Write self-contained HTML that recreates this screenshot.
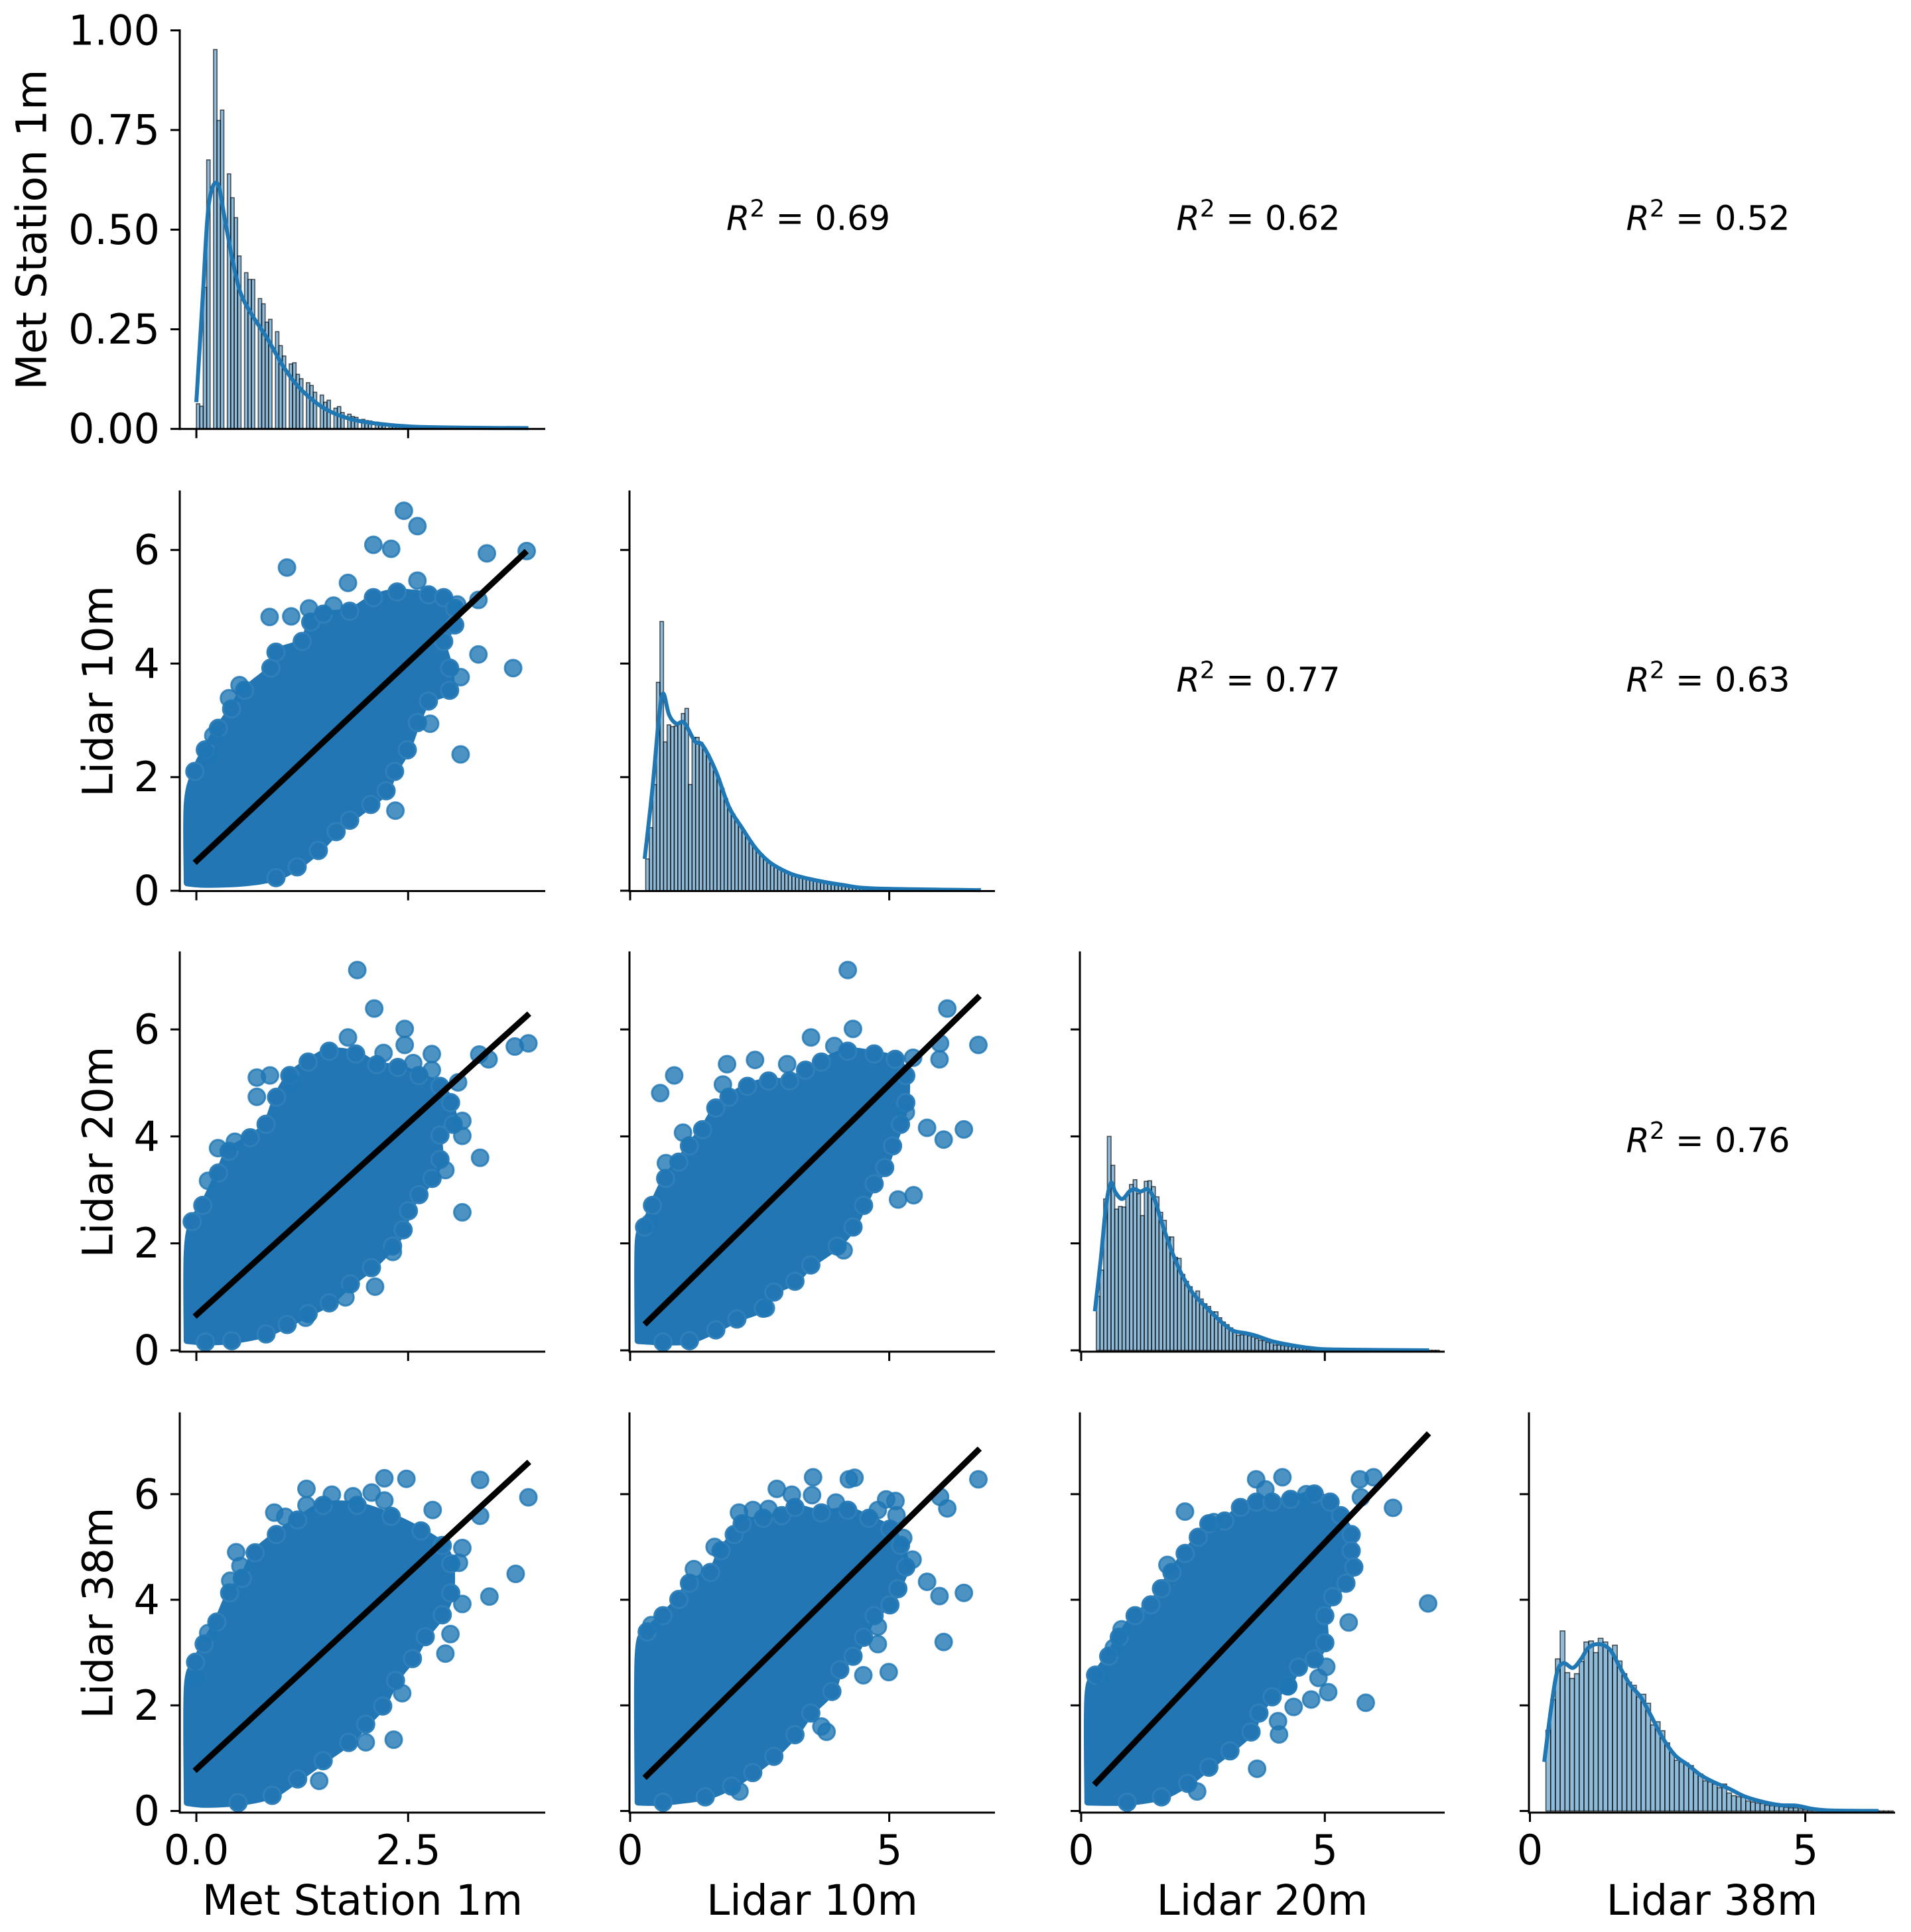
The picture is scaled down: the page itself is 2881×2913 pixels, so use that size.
<!DOCTYPE html>
<html><head><meta charset="utf-8"><style>
html,body{margin:0;padding:0;background:#fff}
svg{display:block;font-family:"DejaVu Sans","Liberation Sans",sans-serif}
</style></head><body>
<svg id="fig" xmlns="http://www.w3.org/2000/svg" width="2881" height="2913" viewBox="0 0 2881 2913">
<rect width="2881" height="2913" fill="#fff"/>
</svg>
<script>
// ---------------- data ----------------
const variables = ["Met Station 1m","Lidar 10m","Lidar 20m","Lidar 38m"];
const rowTicks = [[0,0.25,0.5,0.75,1.0],[0,2,4,6],[0,2,4,6],[0,2,4,6]];
const rowTickLabels = [["0.00","0.25","0.50","0.75","1.00"],["0","2","4","6"],["0","2","4","6"],["0","2","4","6"]];
const colTicks = [[0,2.5],[0,5],[0,5],[0,5]];
const colTickLabels = [["0.0","2.5"],["0","5"],["0","5"],["0","5"]];
const r2Cells = [[0,1],[0,2],[0,3],[1,2],[1,3],[2,3]];
const r2Values = ["0.69","0.62","0.52","0.77","0.63","0.76"];

// histogram bins (start, width, heights)
const histStart = [0.0, 0.30, 0.31, 0.29];
const histWidth = [0.0406, 0.0688, 0.0757, 0.0864];
const hist0 = [0.063,0.057,0.355,0.675,0,0.952,0.774,0.80,0,0.64,0.58,0.53,0.434,0,0.392,0.375,0.375,0,0.327,0.314,0.268,0.275,0,0.244,0.209,0.183,0,0.163,0.166,0.137,0.126,0,0.116,0.109,0.092,0,0.085,0.067,0.072,0,0.052,0.056,0.041,0,0.037,0.031,0.029,0,0.024,0.021,0.020,0,0.017,0.013,0.012,0,0.009,0.008,0.006,0,0.005,0.004,0.004,0,0.003,0.002,0.002,0,0.001,0.001,0.001,0,0.001,0.001,0,0,0.001,0,0,0,0,0.001,0,0,0,0,0,0,0,0,0,0,0,0.001];
const hist1 = [0.56,1.11,1.87,3.67,4.74,2.62,2.92,2.89,2.90,2.95,3.12,3.21,1.87,2.70,2.70,2.61,2.51,2.40,2.25,2.10,1.97,1.80,1.62,1.46,1.35,1.25,1.15,1.05,0.95,0.87,0.78,0.70,0.64,0.57,0.51,0.47,0.43,0.39,0.36,0.33,0.30,0.28,0.26,0.24,0.22,0.21,0.20,0.18,0.17,0.16,0.15,0.14,0.13,0.12,0.11,0.10,0.09,0.08,0.075,0.07,0.06,0.055,0.05,0.045,0.04,0.035,0.03,0.03,0.025,0.025,0.02,0.02,0.02,0.015,0.015,0.015,0.01,0.01,0.01,0.01,0.01,0.01,0.005,0.005,0.005,0.005,0.005,0.005,0.005,0.005,0.003,0.003,0.003];
const hist2 = [1.01,1.50,2.83,4.0,3.46,2.64,2.69,2.68,2.91,3.10,3.19,2.93,2.52,3.16,3.17,3.06,2.87,2.58,2.43,2.12,2.12,1.74,1.72,1.42,1.29,1.19,1.06,1.11,0.96,0.87,0.82,0.72,0.72,0.61,0.53,0.48,0.42,0.37,0.28,0.29,0.29,0.27,0.25,0.22,0.19,0.18,0.15,0.14,0.10,0.10,0.09,0.08,0.07,0.06,0.05,0.05,0.04,0.035,0.03,0.025,0.025,0.02,0.02,0.015,0.015,0.012,0.01,0.01,0.01,0.008,0.008,0.006,0.006,0.005,0.005,0.004,0.004,0.003,0.003,0.003,0.002,0.002,0.002,0.002,0.002,0.002,0.001,0.001,0.001,0.001,0.001,0.001,0.001];
const hist3 = [1.53,2.11,2.88,3.41,2.62,2.51,2.60,2.83,3.20,3.22,3.0,3.27,3.20,3.05,3.14,2.84,2.60,2.44,2.38,2.16,2.21,2.04,1.63,1.69,1.52,1.29,1.11,0.96,0.93,0.91,0.86,0.74,0.70,0.57,0.55,0.51,0.44,0.51,0.34,0.29,0.27,0.26,0.19,0.17,0.15,0.14,0.11,0.10,0.09,0.08,0.07,0.06,0.06,0.04,0.03,0.03,0.02,0.02,0.015,0.01,0.01,0.01,0.008,0.006,0.005,0.004,0.003,0.003,0.002,0.002,0.002,0.001,0.001];

// KDE curves
const kde0X = [0.0,0.077,0.145,0.248,0.346,0.44,0.53,0.66,0.84,1.02,1.2,1.43,1.65,1.92,2.28,2.64,3.2,3.92];
const kde0Y = [0.067,0.337,0.56,0.616,0.514,0.41,0.337,0.285,0.226,0.159,0.107,0.063,0.037,0.02,0.01,0.005,0.003,0.002];
const kde1X = [0.28,0.43,0.56,0.64,0.75,0.89,1.04,1.25,1.40,1.66,1.91,2.17,2.42,2.68,2.93,3.19,3.60,4.11,4.72,6.77];
const kde1Y = [0.56,1.8,3.09,3.47,3.1,2.94,2.96,2.63,2.56,2.09,1.47,1.09,0.75,0.51,0.37,0.27,0.18,0.10,0.04,0.01];
const kde2X = [0.28,0.40,0.51,0.61,0.70,0.84,1.0,1.11,1.22,1.37,1.51,1.65,1.86,2.08,2.30,2.56,2.84,3.11,3.38,3.60,3.92,4.35,4.79,5.27,7.14];
const kde2Y = [0.73,1.69,2.7,3.13,2.96,2.83,2.98,3.01,2.97,3.01,2.81,2.4,1.85,1.39,1.06,0.81,0.56,0.37,0.32,0.27,0.17,0.09,0.035,0.015,0.0];
const kde3X = [0.26,0.38,0.49,0.61,0.78,0.93,1.06,1.25,1.45,1.63,1.82,2.01,2.20,2.39,2.63,2.86,3.10,3.33,3.62,3.91,4.28,4.56,4.85,5.13,5.46,6.33];
const kde3Y = [0.93,1.91,2.62,2.8,2.71,2.88,3.09,3.16,3.06,2.73,2.39,2.16,1.80,1.42,1.06,0.88,0.68,0.55,0.42,0.27,0.16,0.11,0.10,0.04,0.01,0.0];

// scatter dense-region envelopes and outlier points (data units)
const env10X = [-0.11,-0.11,-0.018,0.106,0.26,0.416,0.57,0.88,0.94,1.25,1.35,1.50,1.81,2.09,2.37,2.74,2.92,3.05,3.05,2.92,2.99,2.99,2.74,2.61,2.49,2.34,2.24,2.06,1.81,1.65,1.44,1.19,0.94,0.57,0.106];
const env10Y = [0.135,1.52,2.10,2.48,2.86,3.20,3.53,3.92,4.20,4.39,4.73,4.87,4.92,5.16,5.26,5.21,5.16,4.97,4.68,4.39,3.92,3.53,3.34,2.96,2.48,2.10,1.76,1.52,1.24,1.04,0.71,0.42,0.23,0.135,0.11];
const out10X = [2.45,2.61,2.09,2.30,3.43,3.90,1.07,0.865,1.12,1.79,2.61,3.33,3.74,3.12,2.76,3.12,2.35,3.33,0.385,0.51,0.20,0.14,1.62,1.33,3.08];
const out10Y = [6.69,6.42,6.09,6.02,5.94,5.98,5.69,4.82,4.83,5.42,5.46,4.16,3.92,3.76,2.94,2.40,1.41,5.12,3.39,3.62,2.73,2.38,5.02,4.97,5.04];

const env20X = [-0.111,-0.111,-0.049,0.076,0.262,0.387,0.636,0.823,0.947,1.103,1.320,1.569,1.881,2.130,2.379,2.628,2.876,3.001,3.032,2.876,2.876,2.783,2.628,2.503,2.441,2.316,2.067,1.818,1.569,1.320,1.072,0.823,0.418,0.107];
const env20Y = [0.180,1.799,2.406,2.709,3.316,3.720,3.974,4.226,4.732,5.137,5.390,5.592,5.541,5.339,5.289,5.137,4.935,4.631,4.226,4.024,3.569,3.215,2.911,2.608,2.254,1.950,1.546,1.242,0.888,0.686,0.483,0.306,0.180,0.155];
const out20X = [1.90,2.10,2.46,2.46,1.79,2.21,2.78,2.56,3.34,3.45,3.76,3.92,3.09,3.14,3.14,3.35,3.14,2.94,2.11,2.32,0.256,0.455,0.138,0.714,0.869,0.714,1.13,1.29,1.76,2.78];
const out20Y = [7.11,6.39,6.01,5.71,5.85,5.56,5.54,5.37,5.53,5.44,5.68,5.74,5.01,4.29,4.01,3.60,2.58,3.37,1.19,1.84,3.78,3.90,3.17,5.10,5.14,4.74,5.01,0.61,0.99,5.24];

const env30X = [-0.109,-0.109,-0.009,0.092,0.242,0.393,0.543,0.694,0.945,1.196,1.497,1.899,2.300,2.652,2.903,3.003,3.003,2.903,2.702,2.551,2.351,2.200,1.999,1.798,1.497,1.196,0.895,0.493,0.092];
const env30Y = [0.158,2.334,2.817,3.162,3.577,4.129,4.405,4.889,5.234,5.510,5.787,5.787,5.579,5.303,5.027,4.682,4.129,3.715,3.300,2.886,2.472,1.988,1.643,1.298,0.952,0.607,0.296,0.158,0.124];
const out30X = [1.30,1.30,1.60,1.85,2.07,2.22,2.48,3.35,3.92,2.79,3.35,3.14,3.10,3.77,3.46,3.14,3.00,2.94,2.43,2.33,2.00,1.45,0.92,0.47,0.52,0.40,0.14,-0.01,1.05,2.22];
const out30Y = [6.10,5.79,5.99,5.96,6.03,6.30,6.29,6.27,5.94,5.70,5.59,4.98,4.70,4.49,4.06,3.92,3.35,2.98,2.23,1.35,1.30,0.57,5.65,4.90,4.64,4.36,3.37,2.51,5.57,5.88];

const env21X = [0.151,0.151,0.278,0.431,0.685,0.940,1.144,1.398,1.653,1.907,2.264,2.671,3.079,3.384,3.690,4.199,4.708,5.115,5.319,5.319,5.217,5.064,4.912,4.708,4.504,4.301,3.995,3.486,3.180,2.773,2.569,2.060,1.653,1.144,0.634];
const env21Y = [0.180,2.001,2.304,2.709,3.215,3.518,3.822,4.125,4.530,4.732,4.935,5.036,5.036,5.238,5.390,5.592,5.541,5.440,5.137,4.631,4.226,3.822,3.417,3.114,2.709,2.304,1.950,1.596,1.293,1.090,0.787,0.585,0.382,0.180,0.155];
const out21X = [4.20,6.12,4.30,3.49,3.94,5.98,5.97,6.72,5.46,6.44,6.05,5.73,5.17,5.47,4.12,1.87,2.41,3.03,0.85,0.58,1.79,1.02,0.38,0.69,5.32,2.62];
const out21Y = [7.11,6.39,6.01,5.85,5.69,5.74,5.44,5.71,5.47,4.13,3.94,4.16,2.82,2.90,1.87,5.35,5.43,5.35,5.14,4.81,4.97,4.07,2.38,3.50,4.45,0.79];

const env31X = [0.151,0.151,0.329,0.634,0.940,1.144,1.551,1.755,2.009,2.162,2.569,2.926,3.180,3.690,4.199,4.606,5.013,5.217,5.319,5.166,5.013,4.708,4.504,4.301,4.046,3.893,3.486,3.180,2.773,2.366,1.958,1.449,0.634];
const env31Y = [0.165,2.930,3.391,3.698,4.005,4.313,4.518,4.927,5.235,5.439,5.542,5.593,5.747,5.644,5.695,5.542,5.337,5.030,4.620,4.210,3.903,3.698,3.289,2.930,2.674,2.264,1.855,1.445,1.035,0.728,0.472,0.267,0.165];
const out31X = [3.53,4.22,4.33,2.83,3.12,3.51,3.97,4.94,5.12,4.78,5.14,6.72,5.98,6.12,5.27,5.45,5.73,5.97,6.44,6.05,4.78,4.78,4.50,4.99,3.69,3.79,1.23,1.63,2.10,2.37,2.67,0.41,2.11];
const out31Y = [6.32,6.28,6.31,6.10,5.99,5.98,5.84,5.90,5.87,5.70,5.60,6.28,5.95,5.73,5.17,4.76,4.34,4.07,4.13,3.20,3.49,3.16,2.57,2.63,1.60,1.50,4.58,5.00,5.65,5.70,5.72,3.52,0.37];

const env32X = [0.133,0.133,0.295,0.565,0.782,1.106,1.431,1.647,1.863,2.134,2.404,2.620,2.945,3.269,3.594,3.918,4.297,4.784,5.108,5.324,5.541,5.541,5.595,5.433,5.162,5.000,5.000,4.784,4.459,4.243,3.918,3.648,3.486,3.053,2.620,2.188,1.647,0.944];
const env32Y = [0.165,2.162,2.572,2.930,3.289,3.698,3.903,4.210,4.518,4.876,5.183,5.439,5.491,5.747,5.849,5.849,5.900,6.003,5.849,5.593,5.235,4.927,4.620,4.313,4.057,3.698,3.186,2.879,2.725,2.367,2.162,1.855,1.496,1.138,0.830,0.523,0.267,0.165];
const out32X = [3.59,4.13,3.78,2.13,5.72,6.00,5.74,6.40,7.12,5.84,5.07,4.72,4.36,4.04,4.06,3.61,2.38,1.77,0.67,0.83,0.41,5.49,5.03,4.87,4.24,2.72,4.62];
const out32Y = [6.28,6.32,6.09,5.67,6.28,6.32,5.94,5.74,3.93,2.05,2.25,2.11,1.97,1.70,1.45,0.80,0.37,4.66,3.09,3.44,2.55,3.57,2.73,2.52,2.37,5.47,6.00];

// regression fits
const fitRows = [1,2,3,2,3,3];
const fitCols = [0,0,0,1,1,2];
const fitSlope = [1.40,1.434,1.481,0.950,0.964,0.969];
const fitIntercept = [0.52,0.66,0.79,0.22,0.36,0.237];
const fitXStart = [-0.02,-0.02,-0.02,0.278,0.278,0.268];
const fitXEnd = [3.90,3.93,3.93,6.745,6.745,7.136];

// ---------------- layout ----------------
const cols = [{l:271,r:822,d0:-0.196,d1:4.119},{l:949,r:1500,d0:-0.013,d1:7.04},{l:1628,r:2178,d0:-0.027,d1:7.46},{l:2305,r:2857,d0:-0.018,d1:6.63}];
const rows = [{t:45.8,b:646.7,d0:0,d1:1.0},{t:741,b:1343.5,d0:-0.006,d1:7.03},{t:1436,b:2038,d0:-0.025,d1:7.44},{t:2131,b:2733,d0:-0.031,d1:7.53}];
const NS = "http://www.w3.org/2000/svg";
const svg = document.getElementById('fig');
function mk(tag, attrs, parent){const e=document.createElementNS(NS,tag);for(const k in attrs)e.setAttribute(k,attrs[k]);(parent||svg).appendChild(e);return e;}
function sx(c,v){const C=cols[c];return C.l+(v-C.d0)/(C.d1-C.d0)*(C.r-C.l);}
function sy(r,v){const R=rows[r];return R.b-(v-R.d0)/(R.d1-R.d0)*(R.b-R.t);}
const BLUE="#1f77b4";

function smoothPath(pts){
  let d="M"+pts[0][0].toFixed(1)+","+pts[0][1].toFixed(1);
  for(let i=0;i<pts.length-1;i++){
    const p0=pts[Math.max(i-1,0)],p1=pts[i],p2=pts[i+1],p3=pts[Math.min(i+2,pts.length-1)];
    const c1x=p1[0]+(p2[0]-p0[0])/6,c1y=p1[1]+(p2[1]-p0[1])/6;
    const c2x=p2[0]-(p3[0]-p1[0])/6,c2y=p2[1]-(p3[1]-p1[1])/6;
    d+=" C"+c1x.toFixed(1)+","+c1y.toFixed(1)+" "+c2x.toFixed(1)+","+c2y.toFixed(1)+" "+p2[0].toFixed(1)+","+p2[1].toFixed(1);
  }
  return d;
}

// ---------------- diagonal histograms ----------------
const hists=[hist0,hist1,hist2,hist3];
const kdeXs=[kde0X,kde1X,kde2X,kde3X];
const kdeYs=[kde0Y,kde1Y,kde2Y,kde3Y];
for(let k=0;k<4;k++){
  const g=mk('g',{});
  
  
  hists[k].forEach((h,i)=>{
    if(h<=0)return;
    const x0=histStart[k]+i*histWidth[k];
    const X=sx(k,x0),W=sx(k,x0+histWidth[k])-X;
    const Y=sy(k,h),B=sy(k,0);
    const rc=mk('rect',{x:X,y:Y,width:W,height:Math.max(B-Y,0.5),fill:"rgba(31,119,180,0.5)",stroke:"rgba(0,0,0,0.65)","stroke-width":1.6},g);
    
    
  });
  const pts=kdeXs[k].map((x,i)=>[sx(k,x),sy(k,kdeYs[k][i])]);
  const p=mk('path',{d:smoothPath(pts),fill:"none",stroke:BLUE,"stroke-width":6,"stroke-linejoin":"round"},g);
  
  
}

// ---------------- scatter panels ----------------
const panels=[
  {r:1,c:0,ex:env10X,ey:env10Y,ox:out10X,oy:out10Y},
  {r:2,c:0,ex:env20X,ey:env20Y,ox:out20X,oy:out20Y},
  {r:3,c:0,ex:env30X,ey:env30Y,ox:out30X,oy:out30Y},
  {r:2,c:1,ex:env21X,ey:env21Y,ox:out21X,oy:out21Y},
  {r:3,c:1,ex:env31X,ey:env31Y,ox:out31X,oy:out31Y},
  {r:3,c:2,ex:env32X,ey:env32Y,ox:out32X,oy:out32Y}
];
panels.forEach(P=>{
  const g=mk('g',{});
  
  
  const C=cols[P.c],R=rows[P.r];
  const pts=P.ex.map((x,i)=>[sx(P.c,x),sy(P.r,P.ey[i])]);
  const closed=pts.concat([pts[0]]);
  const blob=mk('path',{d:smoothPath(closed)+"Z",fill:"#2176b3",stroke:"#2176b3","stroke-width":10,"stroke-linejoin":"round"},g);
  
  
  pts.forEach(p=>{
    if(p[0]<C.l+16||p[1]>R.b-14)return;
    const c=mk('circle',{cx:p[0],cy:p[1],r:13,fill:"#2176b3",stroke:"#2f80ba","stroke-width":3},g);
    
    
  });
  P.ox.forEach((x,i)=>{
    const c=mk('circle',{cx:sx(P.c,x),cy:sy(P.r,P.oy[i]),r:12.5,fill:BLUE,"fill-opacity":0.8,stroke:BLUE,"stroke-opacity":0.8,"stroke-width":3},g);
    
    
  });
});
fitSlope.forEach((m,i)=>{
  const r=fitRows[i],c=fitCols[i];
  const x0=fitXStart[i],x1=fitXEnd[i];
  const l=mk('line',{x1:sx(c,x0),y1:sy(r,m*x0+fitIntercept[i]),x2:sx(c,x1),y2:sy(r,m*x1+fitIntercept[i]),stroke:"#000","stroke-width":9});
  
  
});

// ---------------- axes ----------------
for(let r=0;r<4;r++){
  for(let c=0;c<=r;c++){
    const R=rows[r],C=cols[c];
    const g=mk('g',{});
    
    
    const ys=mk('line',{x1:C.l,y1:R.t-1.5,x2:C.l,y2:R.b+1.5,stroke:"#000","stroke-width":3},g);
    
    
    const xs=mk('line',{x1:C.l-1.5,y1:R.b,x2:C.r,y2:R.b,stroke:"#000","stroke-width":3},g);
    
    
    rowTicks[r].forEach((v,i)=>{
      const y=sy(r,v);
      const t=mk('line',{x1:C.l-14,y1:y,x2:C.l,y2:y,stroke:"#000","stroke-width":3},g);
      
      
      if(c===0){
        const tx=mk('text',{x:C.l-30,y:y,"text-anchor":"end","dominant-baseline":"central","font-size":62,fill:"#000"},g);
        tx.textContent=rowTickLabels[r][i];
        
        
      }
    });
    colTicks[c].forEach((v,i)=>{
      const x=sx(c,v);
      const t=mk('line',{x1:x,y1:R.b,x2:x,y2:R.b+14,stroke:"#000","stroke-width":3},g);
      
      
      if(r===3){
        const tx=mk('text',{x:x,y:R.b+78,"text-anchor":"middle","font-size":62,fill:"#000"},g);
        tx.textContent=colTickLabels[c][i];
        
        
      }
    });
  }
}
// axis titles
variables.forEach((name,i)=>{
  const C=cols[i];
  const xt=mk('text',{x:(C.l+C.r)/2,y:2887,"text-anchor":"middle","font-size":63,fill:"#000"});
  xt.textContent=name;
  
  
  const R=rows[i];
  const cx=(i===0)?48:148, cy=(R.t+R.b)/2;
  const yt=mk('text',{x:cx,y:cy,"text-anchor":"middle","dominant-baseline":"central","font-size":63,fill:"#000",transform:"rotate(-90 "+cx+" "+cy+")"});
  yt.textContent=name;
  
  
});
// R^2 annotations
r2Cells.forEach((cell,i)=>{
  const R=rows[cell[0]],C=cols[cell[1]];
  const t=mk('text',{x:(C.l+C.r)/2-6,y:(R.t+R.b)/2,"text-anchor":"middle","font-size":51,fill:"#000"});
  const a=mk('tspan',{"font-style":"italic"},t);a.textContent="R";
  const b=mk('tspan',{"baseline-shift":"super","font-size":"36"},t);b.textContent="2";
  const d=mk('tspan',{},t);d.textContent=" = "+r2Values[i];
  
  
});
</script>
</body></html>
